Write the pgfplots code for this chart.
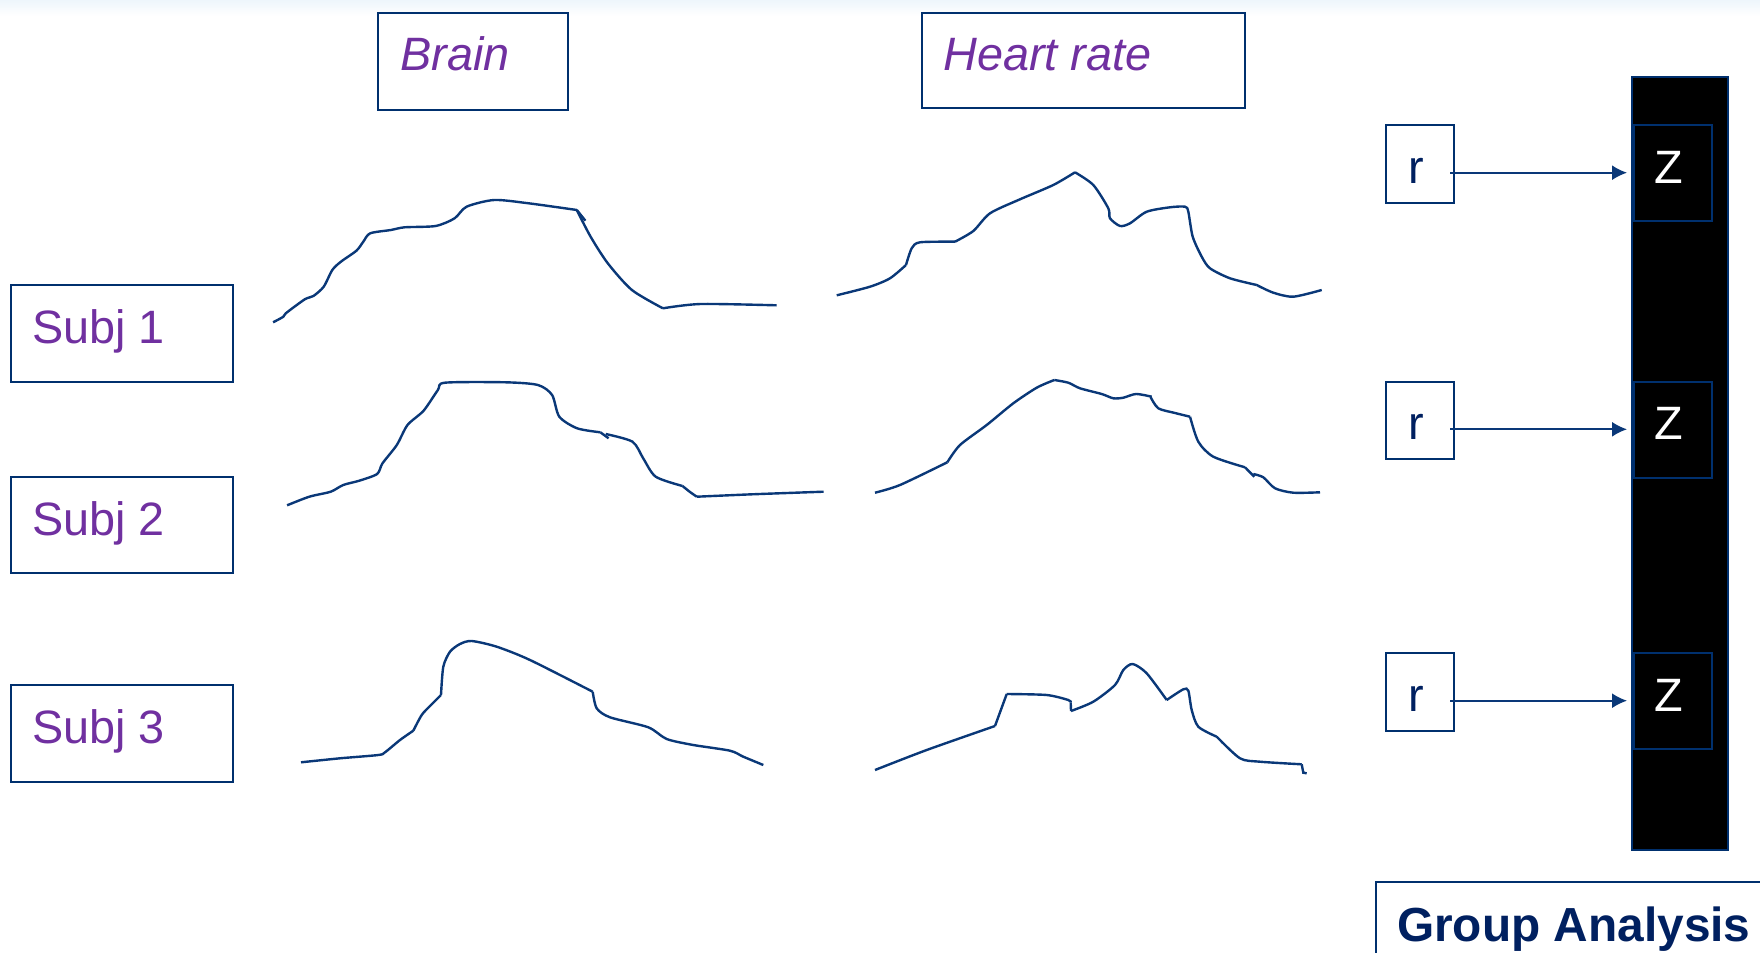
\documentclass[border=0pt]{standalone}
\usepackage{fontspec}
\setmainfont{Liberation Sans}
\usepackage{pgfplots}
\pgfplotsset{compat=1.18}
\usetikzlibrary{arrows.meta}
\definecolor{navy}{HTML}{0A3878}
\definecolor{boxline}{HTML}{00306E}
\definecolor{labpurple}{HTML}{7030A0}
\definecolor{darknavy}{HTML}{002060}
\definecolor{topband}{HTML}{EEF6FC}
\tikzset{
    sig/.style={navy, line width=1.2bp, smooth, tension=0.45, mark=none},
    seg/.style={navy, line width=1.2bp, sharp plot, mark=none},
    lab/.style={anchor=base west, inner sep=0pt, font=\fontsize{23.5}{28}\selectfont},
    arr/.style={navy, line width=0.9bp, -{Latex[length=7.5bp,width=7.5bp]}},
}

\begin{document}
\begin{tikzpicture}
\begin{axis}[
    scale only axis, width=880bp, height=476.5bp,
    xmin=0, xmax=1760, ymin=0, ymax=953, y dir=reverse,
    hide axis, clip=false,
]
% faint band at the top
\fill[top color=topband, bottom color=white, draw=none] (axis cs:0,0) rectangle (axis cs:1760,16);

% column heads
\draw[boxline, line width=1.1bp] (axis cs:378,13) rectangle (axis cs:568,110);
\node[lab, font=\fontsize{23.5}{28}\selectfont\itshape, labpurple] at (axis cs:400,71) {Brain};
\draw[boxline, line width=1.1bp] (axis cs:921.7,12.7) rectangle (axis cs:1245,108.3);
\node[lab, font=\fontsize{23.5}{28}\selectfont\itshape, labpurple] at (axis cs:943,71) {Heart rate};

% subject boxes
\draw[boxline, line width=1.1bp] (axis cs:11,285) rectangle (axis cs:233.3,381.7);
\node[lab, labpurple] at (axis cs:31.7,343.3) {Subj 1};
\draw[boxline, line width=1.1bp] (axis cs:11,476.7) rectangle (axis cs:233.3,573.3);
\node[lab, labpurple] at (axis cs:31.7,535.7) {Subj 2};
\draw[boxline, line width=1.1bp] (axis cs:11,685) rectangle (axis cs:233.3,781.7);
\node[lab, labpurple] at (axis cs:31.7,743.3) {Subj 3};

% ---- Subj 1, brain
\addplot[sig] coordinates {(273.1,322.3)(283.4,316.7)(285.8,313.3)(304.8,299.3)(313.4,296)(323.7,286.7)(332.3,270)(340.9,261.7)(356.4,250.7)(363.3,241.7)(370.2,233.3)(390.9,230)(404.6,227.3)(435.6,226)(454.6,218.3)(466.6,206.7)(494.2,200)(528.6,203.3)(576.8,210)};
\addplot[seg] coordinates {(576.8,210)(585.4,220.7)};
\addplot[sig] coordinates {(576.8,210)(590.6,236.7)(607.8,263.3)(631.9,290)(662.9,308.3)};
\addplot[sig] coordinates {(662.9,308.3)(700.8,304)(776.6,305.3)};

% ---- Subj 1, heart rate
\addplot[sig] coordinates {(836.7,295.3)(870,286.7)(890,278.3)(906,265)};
\addplot[sig] coordinates {(906,265)(911.7,248.3)(920,242.3)(955,241.7)};
\addplot[sig] coordinates {(955,241.7)(973.3,231)(990,213.3)(1020,199.3)(1053.3,185)(1075,172.3)};
\addplot[sig] coordinates {(1075,172.3)(1093.3,185)(1108.3,208.3)(1110,218.3)(1120,226)(1130,223.3)(1146.7,211.7)(1170,207.3)(1185,206.7)(1188.3,211.7)(1192.7,236.7)(1201.7,256.7)(1210,268.3)(1230,278.3)(1256.7,285)};
\addplot[sig] coordinates {(1256.7,285)(1273.3,292.7)(1293.3,296.7)(1321.7,290)};

% ---- Subj 2, brain
\addplot[sig] coordinates {(287.1,505.3)(309.3,496.7)(330.7,491.7)(343.2,485)(359.3,480.7)(377.1,474)(382.5,463.3)(396.8,445)(407.5,425)(423.6,410.7)(437.9,390)(445,382.7)(505.7,382.3)(537.9,385)(552.1,395)(559.3,416.7)(577.1,428.3)(600.4,432.3)};
\addplot[seg] coordinates {(600.4,432.3)(608.6,438.3)};
\addplot[sig] coordinates {(605.7,434)(632.5,441.7)(643.2,458.3)(655.7,476.7)(682.5,486)};
\addplot[sig] coordinates {(682.5,486)(690,492)(696.8,496.7)};
\addplot[sig] coordinates {(696.8,496.7)(752.1,494.3)(823.6,491.7)};

% ---- Subj 2, heart rate
\addplot[sig] coordinates {(875,492.7)(900,485)(947.3,462.3)};
\addplot[sig] coordinates {(947.3,462.3)(960,445)(986.7,425)(1013.3,403.3)(1036.7,387.7)(1054.3,380)};
\addplot[sig] coordinates {(1054.3,380)(1068.3,382.7)(1080,388.3)(1101.7,394)(1113.3,398.3)(1123.3,397.7)(1136,394)(1151.7,396.7)};
\addplot[sig] coordinates {(1150.5,397)(1158.3,408.3)(1175,413)(1190,416.7)};
\addplot[sig] coordinates {(1190,416.7)(1198.3,441.7)(1213.3,456.7)(1245,467.3)};
\addplot[seg] coordinates {(1245,467.3)(1254.3,476.7)};
\addplot[sig] coordinates {(1253.3,474)(1263.3,477.3)(1275,488.3)(1293.3,492.7)(1320,492.3)};

% ---- Subj 3, brain
\addplot[sig] coordinates {(301,762.3)(340,758.3)(378.3,755)(385,752.3)(400,740)(413.3,730.7)};
\addplot[sig] coordinates {(413.3,730.7)(421.7,715)(430,706)(441,695)};
\addplot[sig] coordinates {(441,695)(443.3,666.7)(450,651.7)(460,644)(471.7,641)(496.7,646.7)(530,660)(592.7,691.7)};
\addplot[sig] coordinates {(592.7,691.7)(596.7,708.3)(610,717.3)(648.3,727.3)(666.7,739)(693.3,745)(730,750.7)(743.3,756.7)(763.3,765)};

% ---- Subj 3, heart rate
\addplot[sig] coordinates {(875,770)(926.7,750)(995,726)};
\addplot[seg] coordinates {(995,726)(1006.7,694)};
\addplot[sig] coordinates {(1006.7,694)(1046.7,695)(1068.3,700)(1070.7,702.3)};
\addplot[seg] coordinates {(1070.7,702.3)(1071,711)};
\addplot[sig] coordinates {(1071,711)(1093.3,701.7)(1115,685)(1123.3,670)(1132.7,664)(1146.7,673.3)(1166.7,700)};
\addplot[sig] coordinates {(1166.7,700)(1183.3,689.3)(1188.3,690.7)(1191.7,710)(1198.3,726.7)(1216.7,736.7)};
\addplot[sig] coordinates {(1216.7,736.7)(1240,758.3)(1260,761.7)(1301.7,764.3)};
\addplot[seg] coordinates {(1301.7,764.3)(1303.3,772.7)(1306.7,773.3)};

% ---- group bar with Z boxes
\fill[black] (axis cs:1632.3,76.7) rectangle (axis cs:1728.3,849.7);
\draw[boxline, line width=1bp] (axis cs:1632.3,76.7) rectangle (axis cs:1728.3,849.7);

\draw[boxline, line width=1.1bp] (axis cs:1385.7,125) rectangle (axis cs:1454.3,202.7);
\node[lab, darknavy] at (axis cs:1407.7,183.3) {r};
\draw[boxline, line width=1bp] (axis cs:1634.3,125) rectangle (axis cs:1712.3,221);
\node[lab, white] at (axis cs:1654,183.3) {Z};
\draw[arr] (axis cs:1450,172.7) -- (axis cs:1627,172.7);

\draw[boxline, line width=1.1bp] (axis cs:1385.7,381.6) rectangle (axis cs:1454.3,459.3);
\node[lab, darknavy] at (axis cs:1407.7,439.9) {r};
\draw[boxline, line width=1bp] (axis cs:1634.3,381.6) rectangle (axis cs:1712.3,477.6);
\node[lab, white] at (axis cs:1654,439.9) {Z};
\draw[arr] (axis cs:1450,429.3) -- (axis cs:1627,429.3);

\draw[boxline, line width=1.1bp] (axis cs:1385.7,653) rectangle (axis cs:1454.3,730.7);
\node[lab, darknavy] at (axis cs:1407.7,711.3) {r};
\draw[boxline, line width=1bp] (axis cs:1634.3,653) rectangle (axis cs:1712.3,749);
\node[lab, white] at (axis cs:1654,711.3) {Z};
\draw[arr] (axis cs:1450,700.7) -- (axis cs:1627,700.7);

% ---- group analysis label
\draw[boxline, line width=1.1bp] (axis cs:1375.7,881.7) rectangle (axis cs:1800,1000);
\node[lab, font=\fontsize{24}{29}\selectfont\bfseries, darknavy] at (axis cs:1396.7,941) {Group Analysis};
\end{axis}
\pgfresetboundingbox
\path[use as bounding box] (current axis.south west) rectangle (current axis.north east);
\end{tikzpicture}
\end{document}
